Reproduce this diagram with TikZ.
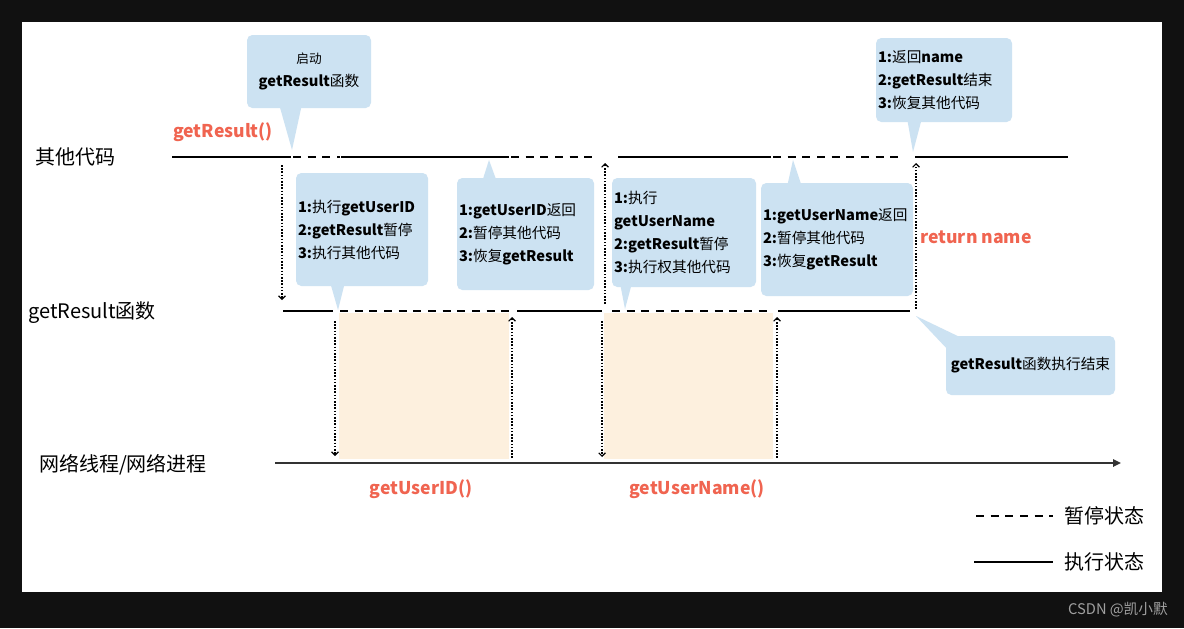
\documentclass[tikz,border=0pt]{standalone}
\usepackage{fontspec}
\setmainfont{Noto Sans CJK SC}
\usetikzlibrary{arrows.meta}
\definecolor{bgdark}{HTML}{111111}
\definecolor{calloutblue}{HTML}{CCE2F2}
\definecolor{peach}{HTML}{FDF0DE}
\definecolor{redlabel}{HTML}{F06450}
\definecolor{netgray}{HTML}{333333}
\definecolor{marklabel}{HTML}{A0A0A0}
\newcommand\lat[1]{\textbf{#1}}
\tikzset{
  callout/.style={fill=calloutblue, rounded corners=4pt, inner xsep=1.5pt, inner ysep=0pt,
    font=\fontsize{11}{17.25}\selectfont, align=left, anchor=center},
  tailfill/.style={fill=calloutblue},
  run/.style={line width=2pt, black},
  pause/.style={line width=1.6pt, black, dash pattern=on 6pt off 5pt},
  jump/.style={line width=1pt, black, dash pattern=on 1.2pt off 1.2pt,
    -{Straight Barb[length=2.5pt,width=5pt,line width=0.9pt]}},
  net/.style={line width=1.5pt, netgray, -{Triangle[length=6pt,width=5.5pt]}},
  rowlabel/.style={font=\fontsize{15}{18}\selectfont, anchor=center},
  redtext/.style={font=\fontsize{13.2}{16}\selectfont\bfseries, text=redlabel, anchor=center},
  legendtext/.style={font=\fontsize{15}{18}\selectfont, anchor=center},
  block/.style={fill=peach}
}
\begin{document}
\begin{tikzpicture}[x=0.75pt,y=-0.75pt]
% frame
\fill[bgdark] (0,0) rectangle (1184,628);
\fill[white] (22,22) rectangle (1162,592);
\useasboundingbox (0,0) rectangle (1184,628);

% peach blocks
\fill[block] (339,313) rectangle (509,459);
\fill[block] (604,313) rectangle (773,459);

% row labels
\node[rowlabel] (lother) at (75,157) {其他代码};
\node[rowlabel] (lfunc) at (92,313) {getResult函数};
\node[rowlabel] (lnet) at (123,465) {网络线程/网络进程};

% row 1: other code
\draw[run] (172,157) coordinate (o1) -- (291,157) coordinate (o2);
\draw[pause] (293,157) coordinate (o3) -- (340,157) coordinate (o4);
\draw[run] (341,157) coordinate (o5) -- (509,157) coordinate (o6);
\draw[pause] (511,157) coordinate (o7) -- (597,157) coordinate (o8);
\draw[run] (618,157) coordinate (o9) -- (771,157) coordinate (o10);
\draw[pause] (773,157) coordinate (o11) -- (900,157) coordinate (o12);
\draw[run] (915,157) coordinate (o13) -- (1068,157) coordinate (o14);

% row 2: getResult
\draw[run] (283,311) coordinate (f1) -- (333,311) coordinate (f2);
\draw[pause] (340,311) coordinate (f3) -- (509,311) coordinate (f4);
\draw[run] (517,311) coordinate (f5) -- (602,311) coordinate (f6);
\draw[pause] (612,311) coordinate (f7) -- (772,311) coordinate (f8);
\draw[run] (778,311) coordinate (f9) -- (910,311) coordinate (f10);

% row 3: network
\coordinate (n1) at (275,463);
\coordinate (n2) at (1121,463);
\draw[net] (n1) -- (n2);

% jumps
\coordinate (j1a) at (282,165); \coordinate (j1b) at (282,300);
\draw[jump] (j1a) -- (j1b);
\coordinate (j2a) at (335,321); \coordinate (j2b) at (335,456);
\draw[jump] (j2a) -- (j2b);
\coordinate (j3a) at (512,458); \coordinate (j3b) at (512,317);
\draw[jump] (j3a) -- (j3b);
\coordinate (j4a) at (602,321); \coordinate (j4b) at (602,457);
\draw[jump] (j4a) -- (j4b);
\coordinate (j5a) at (605,304); \coordinate (j5b) at (605,163);
\draw[jump] (j5a) -- (j5b);
\coordinate (j6a) at (777,458); \coordinate (j6b) at (777,317);
\draw[jump] (j6a) -- (j6b);
\coordinate (j7a) at (916,309); \coordinate (j7b) at (916,163);
\draw[jump] (j7a) -- (j7b);

% callouts
\node[callout, minimum width=93pt, minimum height=54.75pt, text width=90pt, align=center] (b1) at (309,71.5)
  {{\fontsize{9.5}{17.25}\selectfont 启动}\\\lat{getResult}函数};
\coordinate (t1) at (292,150);
\fill[tailfill] (279,104) -- (t1) -- (302,104) -- cycle;

\node[callout, minimum width=99pt, minimum height=84.75pt, text width=96pt] (b2) at (362,229.5)
  {\lat{1:}执行\lat{getUserID}\\\lat{2:getResult}暂停\\\lat{3:}执行其他代码};
\coordinate (t2) at (338,310);
\fill[tailfill] (330,282) -- (t2) -- (345,282) -- cycle;

\node[callout, minimum width=102.75pt, minimum height=84pt, text width=99.75pt] (b3) at (525.5,234)
  {\lat{1:getUserID}返回\\\lat{2:}暂停其他代码\\\lat{3:}恢复\lat{getResult}};
\coordinate (t3) at (489,160);
\fill[tailfill] (482,182) -- (t3) -- (497,182) -- cycle;

\node[callout, minimum width=108pt, minimum height=81.75pt, text width=105pt] (b4) at (684,232.5)
  {\lat{1:}执行\\\lat{getUserName}\\\lat{2:getResult}暂停\\\lat{3:}执行权其他代码};
\coordinate (t4) at (625,309);
\fill[tailfill] (620,283) -- (t4) -- (632,283) -- cycle;

\node[callout, minimum width=114pt, minimum height=84.75pt, text width=111pt] (b5) at (837,239.5)
  {\lat{1:getUserName}返回\\\lat{2:}暂停其他代码\\\lat{3:}恢复\lat{getResult}};
\coordinate (t5) at (793,160);
\fill[tailfill] (787,187) -- (t5) -- (802,187) -- cycle;

\node[callout, minimum width=102pt, minimum height=63pt, text width=99pt] (b6) at (944,80)
  {\lat{1:}返回\lat{name}\\\lat{2:getResult}结束\\\lat{3:}恢复其他代码};
\coordinate (t6) at (913,152);
\fill[tailfill] (907,118) -- (t6) -- (922,118) -- cycle;

\node[callout, minimum width=126.75pt, minimum height=44.25pt, text width=123.75pt, align=center] (b7) at (1030.5,365.5)
  {\lat{getResult}函数执行结束};
\coordinate (t7) at (916,316);
\fill[tailfill] (t7) -- (966,340) -- (950,352) -- cycle;

% red labels
\node[redtext] (rgr) at (223,132) {getResult()};
\node[redtext] (rid) at (421,489) {getUserID()};
\node[redtext] (rname) at (697,489) {getUserName()};
\node[redtext] (rret) at (976,237) {return name};

% legend
\draw[pause] (976,516) coordinate (lg1) -- (1053,516) coordinate (lg2);
\node[legendtext] (lgp) at (1104,516) {暂停状态};
\draw[run] (974,562) coordinate (lg3) -- (1053,562) coordinate (lg4);
\node[legendtext] (lgr) at (1104,562) {执行状态};

% watermark
\node[anchor=east, text=marklabel, font=\fontsize{11}{13}\selectfont, inner sep=0pt] (wm) at (1168,610) {CSDN @凯小默};
\end{tikzpicture}
\end{document}
